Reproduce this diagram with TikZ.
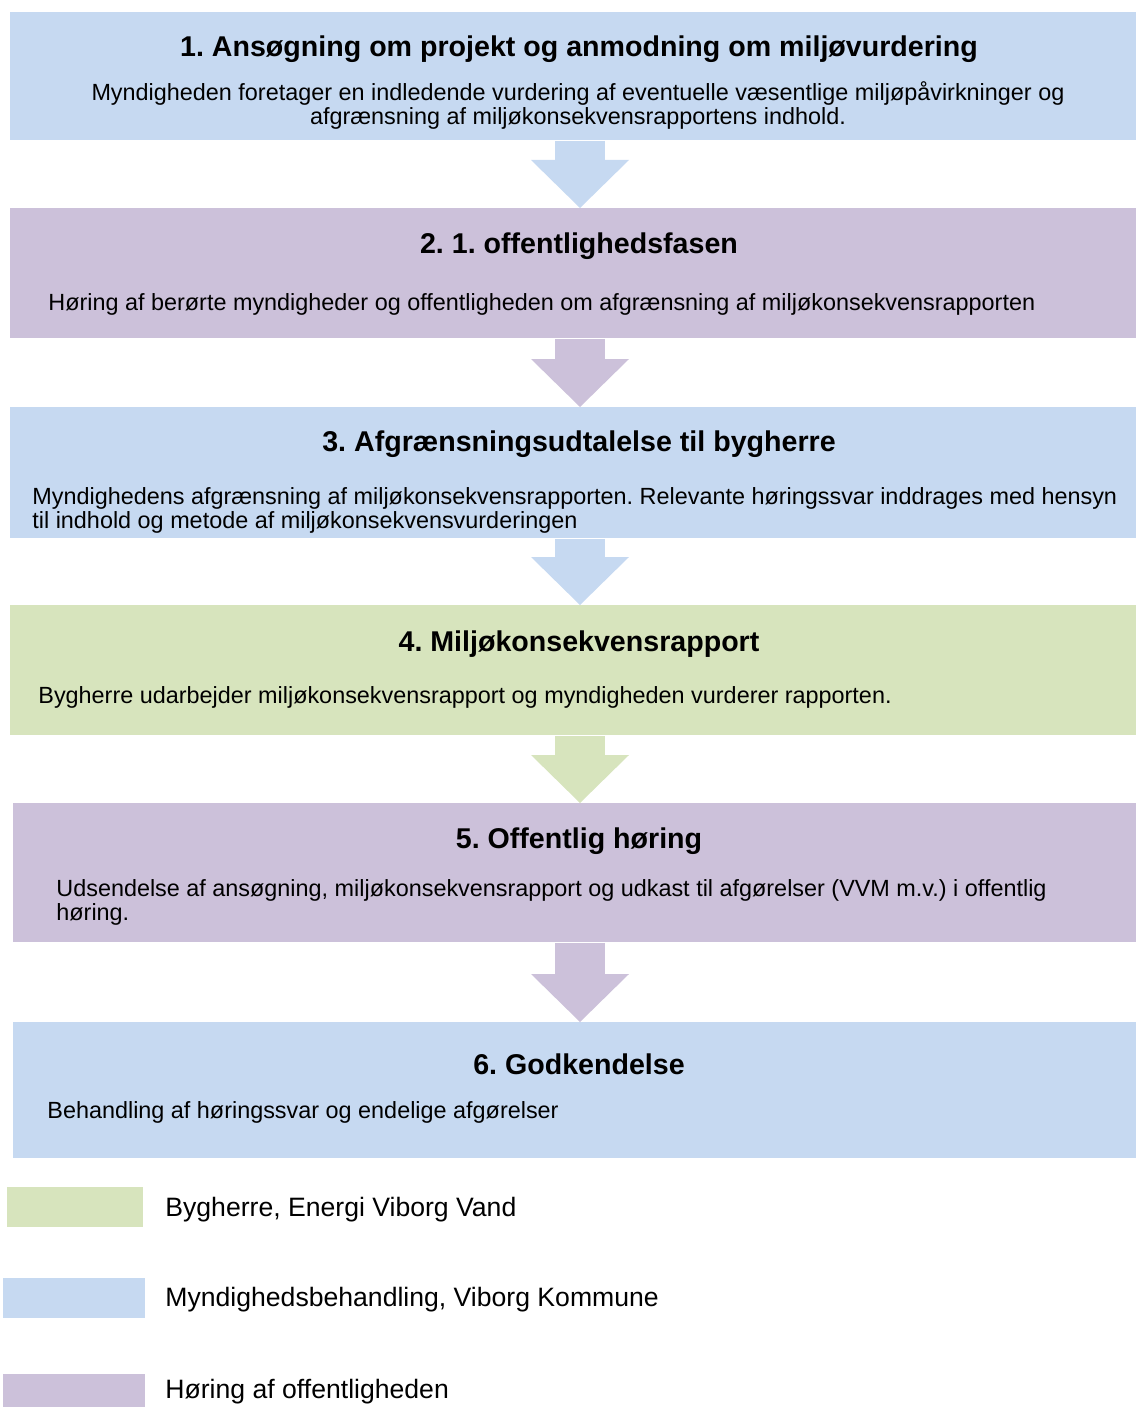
\documentclass[tikz,border=0pt]{standalone}
\usepackage{fontspec}
\setmainfont{Liberation Sans}
\usetikzlibrary{arrows.meta}
\frenchspacing

\definecolor{phaseblue}{HTML}{C6D9F1}
\definecolor{phasepurple}{HTML}{CCC1DA}
\definecolor{phasegreen}{HTML}{D7E4BD}

\tikzset{
  stage/.style n args={3}{fill=#1, anchor=north west, inner sep=0pt,
    minimum width={#2*0.5pt}, minimum height={#3*0.5pt}},
  stagetitle/.style={font=\fontsize{14.3}{16}\selectfont\bfseries, inner sep=0pt},
  stagetext/.style={font=\fontsize{11.7}{12}\selectfont, inner sep=0pt},
  flow/.style={draw=#1, line width=25pt,
    -{Triangle[width=49pt, length=24pt, line width=0pt]}},
  key/.style={fill=#1, anchor=north west, inner sep=0pt,
    minimum width=68pt, minimum height=20pt},
  keytext/.style={font=\fontsize{13.3}{15}\selectfont, anchor=west, inner sep=0pt}
}

\begin{document}
\begin{tikzpicture}[x=0.5pt, y=-0.5pt]
  \useasboundingbox (0,0) rectangle (1136,1407);

  % Stages
  \node[stage={phaseblue}{1126}{128}]   (s1) at (10,12)   {};
  \node[stage={phasepurple}{1126}{130}] (s2) at (10,208)  {};
  \node[stage={phaseblue}{1126}{131}]   (s3) at (10,407)  {};
  \node[stage={phasegreen}{1126}{130}]  (s4) at (10,605)  {};
  \node[stage={phasepurple}{1123}{139}] (s5) at (13,803)  {};
  \node[stage={phaseblue}{1123}{136}]   (s6) at (13,1022) {};

  % Titles
  \node[stagetitle] (t1) at (579,49)   {1. Ansøgning om projekt og anmodning om miljøvurdering};
  \node[stagetitle] (t2) at (579,246)  {2. 1. offentlighedsfasen};
  \node[stagetitle] (t3) at (579,444)  {3. Afgrænsningsudtalelse til bygherre};
  \node[stagetitle] (t4) at (579,644)  {4. Miljøkonsekvensrapport};
  \node[stagetitle] (t5) at (579,841)  {5. Offentlig høring};
  \node[stagetitle] (t6) at (579,1064) {6. Godkendelse};

  % Descriptions
  \node[stagetext, align=center] (d1) at (578,105)
    {Myndigheden foretager en indledende vurdering af eventuelle væsentlige miljøpåvirkninger og\\
     afgrænsning af miljøkonsekvensrapportens indhold.};
  \node[stagetext, anchor=west] (d2) at (48,304)
    {Høring af berørte myndigheder og offentligheden om afgrænsning af miljøkonsekvensrapporten};
  \node[stagetext, anchor=west, align=left] (d3) at (32,510)
    {Myndighedens afgrænsning af miljøkonsekvensrapporten. Relevante høringssvar inddrages med hensyn\\
     til indhold og metode af miljøkonsekvensvurderingen};
  \node[stagetext, anchor=west] (d4) at (38,697)
    {Bygherre udarbejder miljøkonsekvensrapport og myndigheden vurderer rapporten.};
  \node[stagetext, anchor=west, align=left] (d5) at (56,902)
    {Udsendelse af ansøgning, miljøkonsekvensrapport og udkast til afgørelser (VVM m.v.) i offentlig\\
     høring.};
  \node[stagetext, anchor=west] (d6) at (47,1112)
    {Behandling af høringssvar og endelige afgørelser};

  % Arrows between stages
  \coordinate (axis) at (580,0);
  \draw[flow=phaseblue]   (s1.south -| axis) -- (s2.north -| axis);
  \draw[flow=phasepurple] (s2.south -| axis) -- (s3.north -| axis);
  \draw[flow=phaseblue]   (s3.south -| axis) -- (s4.north -| axis);
  \draw[flow=phasegreen]  (s4.south -| axis) -- (s5.north -| axis);
  \draw[flow=phasepurple] (s5.south -| axis) -- (s6.north -| axis);

  % Legend
  \node[key=phasegreen, minimum width=68pt]  (k1) at (7,1187) {};
  \node[key=phaseblue, minimum width=71pt]   (k2) at (3,1278) {};
  \node[key=phasepurple, minimum width=71pt] (k3) at (3,1374) {};
  \node[keytext] (l1) at (165,1210) {Bygherre, Energi Viborg Vand};
  \node[keytext] (l2) at (165,1300) {Myndighedsbehandling, Viborg Kommune};
  \node[keytext] (l3) at (165,1392) {Høring af offentligheden};
\end{tikzpicture}
\end{document}
